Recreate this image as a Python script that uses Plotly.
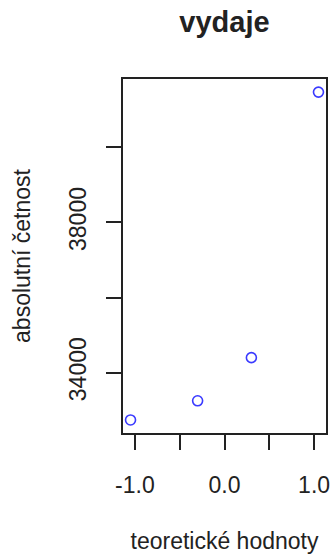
import plotly.graph_objects as go

theoretical = [-1.049, -0.300, 0.300, 1.049]
observed = [32740, 33250, 34400, 41470]
x_tickvals = [-1.0, -0.5, 0.0, 0.5, 1.0]
x_ticktext = ["-1.0", "", "0.0", "", "1.0"]
y_tickvals = [34000, 36000, 38000, 40000]
y_ticktext = ["34000", "", "38000", ""]

FONT = "Liberation Sans"
INK = "#222222"

fig = go.Figure(go.Scatter(
    x=theoretical, y=observed, mode="markers",
    marker=dict(symbol="circle-open", size=10, color="#3a3aff", line=dict(width=1.6, color="#3a3aff")),
    showlegend=False,
))

fig.update_layout(
    width=334, height=554,
    margin=dict(l=123, r=8, t=79, b=121, autoexpand=False),
    paper_bgcolor="white", plot_bgcolor="white",
    font=dict(family=FONT, size=23, color=INK),
    title=dict(text="<b>vydaje</b>", x=0.5, xref="paper", y=1 - 22/554, yref="container",
               yanchor="middle", xanchor="center", font=dict(family=FONT, size=29, color=INK)),
    xaxis=dict(range=[-1.133, 1.133], tickvals=x_tickvals, ticktext=x_ticktext,
               ticks="outside", ticklen=15, tickwidth=1.5, tickcolor=INK,
               showline=True, mirror=True, linecolor=INK, linewidth=1.5,
               showgrid=False, zeroline=False, ticklabelstandoff=16, automargin=False,
               tickfont=dict(family=FONT, size=23),
               title=dict(text="teoretické hodnoty", standoff=50, font=dict(family=FONT, size=23))),
    yaxis=dict(range=[32393, 41819], tickvals=y_tickvals, ticktext=y_ticktext,
               ticks="outside", ticklen=15, tickwidth=1.5, tickcolor=INK, tickangle=-90,
               showline=True, mirror=True, linecolor=INK, linewidth=1.5,
               showgrid=False, zeroline=False, ticklabelstandoff=11, automargin=False,
               tickfont=dict(family=FONT, size=23),
               title=dict(text="absolutní četnost", standoff=28, font=dict(family=FONT, size=23))),
)

fig.write_html("out.html", config={"displayModeBar": False},
               post_script="document.body.style.margin='0';document.body.style.overflow='hidden';")
